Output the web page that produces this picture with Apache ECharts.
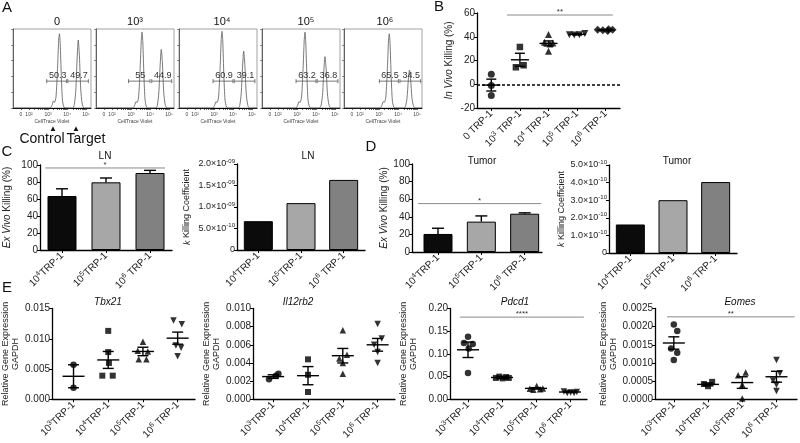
<!DOCTYPE html>
<html>
<head>
<meta charset="utf-8">
<script src="https://cdn.jsdelivr.net/npm/echarts@6.0.0/dist/echarts.min.js"></script>
<style>
html,body{margin:0;padding:0;background:#ffffff;}
#chart{width:800px;height:443px;}
</style>
</head>
<body>
<div id="chart"></div>
<script>
const FONT = "'Liberation Sans', Arial, Helvetica, sans-serif";

// ---------------- Panel A : CellTrace Violet histograms ----------------
const aTitles = ['0', '10³', '10⁴', '10⁵', '10⁶'];
const aHist0 = [[1.16,0],[3.1,0],[3.22,4],[3.28,9],[3.34,7],[3.42,14],[3.5,50],[3.56,85],[3.6,94],[3.64,82],[3.7,40],[3.76,10],[3.84,1],[3.95,0],[4.3,0],[4.38,4],[4.46,22],[4.53,62],[4.59,86],[4.65,66],[4.72,24],[4.8,5],[4.9,0],[5.26,0]];
const aHist1 = [[1.16,0],[3.1,0],[3.2,4],[3.26,8],[3.32,7],[3.4,14],[3.48,50],[3.54,86],[3.58,96],[3.62,84],[3.68,40],[3.74,10],[3.82,1],[3.93,0],[4.3,0],[4.38,3],[4.46,19],[4.53,53],[4.59,74],[4.65,57],[4.72,20],[4.8,4],[4.9,0],[5.26,0]];
const aHist2 = [[1.16,0],[2.94,0],[3.04,4],[3.1,8],[3.16,7],[3.24,14],[3.32,50],[3.38,87],[3.42,97],[3.46,85],[3.52,40],[3.58,10],[3.66,1],[3.77,0],[4.27,0],[4.35,3],[4.43,18],[4.5,52],[4.56,72],[4.62,55],[4.69,20],[4.77,4],[4.87,0],[5.26,0]];
const aHist3 = [[1.16,0],[2.94,0],[3.04,4],[3.1,8],[3.16,7],[3.24,14],[3.32,50],[3.38,86],[3.42,96],[3.46,84],[3.52,40],[3.58,10],[3.66,1],[3.77,0],[4.18,0],[4.26,3],[4.34,16],[4.41,47],[4.47,65],[4.53,50],[4.6,18],[4.68,4],[4.78,0],[5.26,0]];
const aHist4 = [[1.16,0],[3.06,0],[3.16,4],[3.22,8],[3.28,7],[3.36,14],[3.44,50],[3.5,85],[3.54,94],[3.58,82],[3.64,40],[3.7,10],[3.78,1],[3.89,0],[4.31,0],[4.39,2],[4.47,12],[4.54,35],[4.6,48],[4.66,37],[4.73,13],[4.81,3],[4.91,0],[5.26,0]];
const aGateL = [[2.93,3.98],[2.87,4.0],[2.95,4.0],[2.95,4.0],[3.02,4.02]];
const aGateR = [[4.04,5.12],[4.09,5.14],[4.06,5.15],[4.06,5.15],[4.1,5.19]];
const aGateLevel = 34;
const aPctL = ['50.3', '55', '60.9', '63.2', '65.5'];
const aPctR = ['49.7', '44.9', '39.1', '36.8', '34.5'];
const aTickVals = [1.58, 2, 3, 4, 5];
const aTickLabels = ['0', '10²', '10³', '10⁴', '10⁵'];

// ---------------- Panel B : In vivo killing ----------------
const bCats = ['0 TRP-1', '10³ TRP-1', '10⁴ TRP-1', '10⁵ TRP-1', '10⁶ TRP-1'];
const bKill0 = [[0,8.4],[0,-1.1],[0,-9.5]];
const bKill3 = [[1,31.4],[0.86,14.3],[1.13,16.0]];
const bKill4 = [[2,42],[1.86,35.3],[2.15,34.7],[2.05,34],[2,27.8]];
const bKill5 = [[2.73,41.7],[2.9,41.4],[3.08,41.7],[3.27,42.8]];
const bKill6 = [[3.72,46.0],[3.9,45.4],[4.07,44.8],[4.24,45.8],[4.1,46.4]];
const bMean = [-0.7, 20.6, 34.4, 42.0, 45.6];
const bSem = [5.0, 5.5, 2.1, 0.5, 0.4];
const bSig = [0.55, 4.25, 58.3, '**'];

// ---------------- Panel C / D : ex vivo killing ----------------
const cdCats = ['10⁴TRP-1', '10⁵TRP-1', '10⁶ TRP-1'];
const cLNKill = [63.5, 79.6, 90.6];
const cLNKillSem = [8.5, 5.1, 3.1];
const cLNSig = [-0.38, 2.34, 96.5, '*'];
const cLNCoef = [6.7e-10, 1.09e-9, 1.63e-9];
const dTumorKill = [20.5, 34.5, 43.5];
const dTumorKillSem = [6.5, 6.5, 1.0];
const dTumorSig = [-0.46, 2.38, 55, '*'];
const dTumorCoef = [1.62e-10, 3.0e-10, 4.03e-10];

// ---------------- Panel E : gene expression ----------------
const eCats = ['10³TRP-1', '10⁴TRP-1', '10⁵TRP-1', '10⁶ TRP-1'];
const eGenes = ['Tbx21', 'Il12rb2', 'Pdcd1', 'Eomes'];
const tbx21G3 = [[0,0.0057],[0,0.0019]];
const tbx21G4 = [[1,0.0113],[1,0.0078],[1.02,0.0060],[0.83,0.0039],[1.13,0.0039]];
const tbx21G5 = [[2,0.0095],[1.85,0.0080],[2.14,0.0079],[1.88,0.0066],[2.1,0.0066]];
const tbx21G6 = [[2.88,0.0130],[3.12,0.0124],[2.95,0.0089],[3.1,0.0085],[3,0.0071]];
const tbx21Mean = [0.0038, 0.0065, 0.0079, 0.0101];
const tbx21Sem = [0.0019, 0.0014, 0.0007, 0.0010];
const il12G3 = [[-0.12,0.0022],[0.08,0.0026],[0.15,0.0028]];
const il12G4 = [[1,0.0044],[1,0.0027],[1,0.0008]];
const il12G5 = [[2,0.0076],[2.12,0.0049],[1.9,0.0045],[2,0.0040],[2,0.0028]];
const il12G6 = [[3,0.0083],[3.12,0.0067],[2.9,0.0060],[3,0.0052],[3,0.0040]];
const il12Mean = [0.0025, 0.0026, 0.0048, 0.0060];
const il12Sem = [0.0002, 0.0010, 0.0008, 0.0007];
const pdcdG3 = [[0,0.138],[-0.12,0.124],[0.14,0.122],[0.02,0.112],[0,0.058]];
const pdcdG4 = [[0.82,0.047],[0.92,0.050],[1.02,0.046],[1.12,0.049],[1.2,0.047]];
const pdcdG5 = [[1.82,0.023],[1.92,0.021],[2.02,0.029],[2.12,0.022],[2.2,0.024]];
const pdcdG6 = [[2.82,0.017],[2.92,0.014],[3.02,0.015],[3.12,0.014],[3.2,0.016]];
const pdcdMean = [0.109, 0.048, 0.024, 0.016];
const pdcdSem = [0.017, 0.002, 0.0015, 0.001];
const pdcdSig = [-0.24, 3.41, 0.181, '****'];
const eomG3 = [[0,0.00206],[0.1,0.00188],[-0.08,0.00140],[0.1,0.00128],[0,0.00108]];
const eomG4 = [[0.88,0.00042],[1.0,0.00036],[1.12,0.00048]];
const eomG5 = [[2.1,0.00074],[1.88,0.00066],[2,0.00040],[2,0.00002]];
const eomG6 = [[3,0.00108],[3.1,0.00072],[2.9,0.00052],[3,0.00040],[3,0.00023]];
const eomMean = [0.00155, 0.00041, 0.00046, 0.00062];
const eomSem = [0.00017, 0.00004, 0.00016, 0.00015];
const eomSig = [-0.2, 3.53, 0.00227, '**'];

// ======================================================================
const grids = [], xAxes = [], yAxes = [], series = [], graphics = [];
const unSup = {'⁰':'0','¹':'1','²':'2','³':'3','⁴':'4','⁵':'5','⁶':'6','⁷':'7','⁸':'8','⁹':'9','⁻':'-'};
// turn unicode superscript runs into rich-text tokens
function richSup(s) {
  return s.replace(/[⁰¹²³⁴⁵⁶⁷⁸⁹⁻]+/g, m => '{s|' + m.split('').map(c => unSup[c]).join('') + '}');
}
function expLabel(v) {
  if (Math.abs(v) < 1e-20) return '0';
  const e = Math.floor(Math.log10(v) + 1e-9);
  const m = v / Math.pow(10, e);
  return m.toFixed(1) + '×10{s|-' + String(-e).padStart(2, '0') + '}';
}
function supRich(fs) {
  return {s: {fontSize: fs, fontFamily: FONT, color: '#222', verticalAlign: 'top', lineHeight: fs + 1, padding: [0, 0, 0, 0]}};
}
function txt(x, y, s, size, extra) {
  graphics.push({type: 'text', x, y, silent: true, z: 100,
    style: Object.assign({text: s, fill: '#111', fontSize: size, fontFamily: FONT, align: 'center', verticalAlign: 'middle'}, extra || {})});
}
function catX(gi, min, max, labels, fs) {
  const idx = labels.map((_, i) => i);
  return {gridIndex: gi, type: 'value', min, max, splitLine: {show: false},
    axisLine: {show: true, onZero: false, lineStyle: {color: '#000', width: 1.3}},
    axisTick: {show: true, length: 3, customValues: idx, lineStyle: {color: '#000', width: 1}},
    axisLabel: {customValues: idx, formatter: v => richSup(labels[Math.round(v)]), rotate: 45, fontSize: fs,
      fontFamily: FONT, color: '#222', margin: 4, lineHeight: fs + 3, rich: supRich(fs - 3)}};
}
function valY(gi, min, max, interval, fmt, name, gap, nameSize, labelSize) {
  const ls = labelSize || 10;
  return {gridIndex: gi, type: 'value', min, max, interval,
    axisLine: {show: true, onZero: false, lineStyle: {color: '#000', width: 1.3}},
    axisTick: {show: true, length: 3, lineStyle: {color: '#000', width: 1}},
    axisLabel: {formatter: fmt, fontSize: ls, fontFamily: FONT, color: '#222', margin: 2, lineHeight: ls + 3, rich: supRich(ls - 3)},
    splitLine: {show: false},
    name, nameLocation: 'middle', nameGap: gap,
    nameTextStyle: {fontSize: nameSize, fontFamily: FONT, color: '#222', lineHeight: nameSize + 1,
      rich: {i: {fontStyle: 'italic', fontSize: nameSize, fontFamily: FONT, color: '#222'}}}};
}
function scat(gi, data, symbol, rot, size) {
  return {type: 'scatter', xAxisIndex: gi, yAxisIndex: gi, data, symbol, symbolRotate: rot || 0,
    symbolSize: size, itemStyle: {color: '#000'}, silent: true, z: 3};
}
function meanSem(gi, means, sems, meanW, capW) {
  return {type: 'custom', xAxisIndex: gi, yAxisIndex: gi, silent: true, z: 4,
    data: means.map((m, i) => [i, m, sems[i]]),
    renderItem: (p, api) => {
      const x = api.value(0), m = api.value(1), s = api.value(2);
      const c = api.coord([x, m]), t = api.coord([x, m + s]), b = api.coord([x, m - s]);
      const st = {stroke: '#000', lineWidth: 1.4};
      return {type: 'group', children: [
        {type: 'line', shape: {x1: c[0] - meanW / 2, y1: c[1], x2: c[0] + meanW / 2, y2: c[1]}, style: st},
        {type: 'line', shape: {x1: t[0], y1: t[1], x2: b[0], y2: b[1]}, style: st},
        {type: 'line', shape: {x1: t[0] - capW / 2, y1: t[1], x2: t[0] + capW / 2, y2: t[1]}, style: st},
        {type: 'line', shape: {x1: b[0] - capW / 2, y1: b[1], x2: b[0] + capW / 2, y2: b[1]}, style: st}
      ]};
    }};
}
function errUp(gi, means, sems, capW) {
  return {type: 'custom', xAxisIndex: gi, yAxisIndex: gi, silent: true, z: 4,
    data: means.map((m, i) => [i, m, sems[i]]),
    renderItem: (p, api) => {
      const x = api.value(0), m = api.value(1), s = api.value(2);
      const c = api.coord([x, m]), t = api.coord([x, m + s]);
      const st = {stroke: '#000', lineWidth: 1.4};
      return {type: 'group', children: [
        {type: 'line', shape: {x1: c[0], y1: c[1], x2: t[0], y2: t[1]}, style: st},
        {type: 'line', shape: {x1: t[0] - capW / 2, y1: t[1], x2: t[0] + capW / 2, y2: t[1]}, style: st}
      ]};
    }};
}
function sigLine(gi, sig, fs) {
  return {type: 'custom', xAxisIndex: gi, yAxisIndex: gi, silent: true, z: 5,
    data: [[sig[0], sig[1], sig[2]]],
    renderItem: (p, api) => {
      const a = api.coord([api.value(0), api.value(2)]), b = api.coord([api.value(1), api.value(2)]);
      return {type: 'group', children: [
        {type: 'line', shape: {x1: a[0], y1: a[1], x2: b[0], y2: b[1]}, style: {stroke: '#8a8a8a', lineWidth: 1}},
        {type: 'text', x: (a[0] + b[0]) / 2, y: a[1] + 1, style: {text: sig[3], align: 'center', verticalAlign: 'bottom', fontSize: fs, fontFamily: FONT, fill: '#333'}}
      ]};
    }};
}
function bars(gi, vals, colors) {
  return {type: 'bar', xAxisIndex: gi, yAxisIndex: gi, barWidth: 29, silent: true, z: 2,
    data: vals.map((v, i) => ({value: [i, v], itemStyle: {color: colors[i], borderColor: '#000', borderWidth: 1}}))};
}

// ---- Panel A grids ----
const aHists = [aHist0, aHist1, aHist2, aHist3, aHist4];
const aLefts = [13, 96, 179, 262, 344];
const aTitleX = [57, 135, 222, 306, 385];
const aMinor = [1.58];
for (let d = 2; d <= 4; d++) for (let k = 1; k <= 9; k++) aMinor.push(d + Math.log10(k));
aMinor.push(5);
aHists.forEach((h, i) => {
  const gi = grids.length;
  grids.push({left: aLefts[i], top: 29, width: 78, height: 79, show: true, borderColor: '#8a8a8a', borderWidth: 0.8, backgroundColor: 'transparent'});
  xAxes.push({gridIndex: gi, type: 'value', min: 1.16, max: 5.26, splitLine: {show: false},
    axisLine: {show: true, onZero: false, lineStyle: {color: '#000', width: 1}},
    axisTick: {show: true, customValues: aMinor, length: 2, lineStyle: {color: '#000', width: 0.6}},
    axisLabel: {customValues: aTickVals, fontSize: 5, color: '#444', fontFamily: FONT, margin: 4,
      formatter: v => { let best = 0; aTickVals.forEach((t, j) => { if (Math.abs(t - v) < Math.abs(aTickVals[best] - v)) best = j; }); return aTickLabels[best]; }},
    name: 'CellTrace Violet', nameLocation: 'middle', nameGap: 11, nameTextStyle: {fontSize: 5, color: '#444', fontFamily: FONT}});
  yAxes.push({gridIndex: gi, type: 'value', min: 0, max: 100, interval: 20, splitLine: {show: false},
    axisLine: {show: true, lineStyle: {color: '#444', width: 0.8}},
    axisTick: {show: true, length: 2, lineStyle: {color: '#444', width: 0.6}}, axisLabel: {show: false}});
  series.push({type: 'line', xAxisIndex: gi, yAxisIndex: gi, data: h, showSymbol: false, smooth: 0.25, silent: true,
    lineStyle: {color: '#6a6a6a', width: 0.9}});
  const gates = [[aGateL[i][0], aGateL[i][1], aGateLevel], [aGateR[i][0], aGateR[i][1], aGateLevel]];
  const pcts = [aPctL[i], aPctR[i]];
  series.push({type: 'custom', xAxisIndex: gi, yAxisIndex: gi, silent: true, z: 5, data: gates,
    renderItem: (p, api) => {
      const a = api.coord([api.value(0), api.value(2)]), b = api.coord([api.value(1), api.value(2)]);
      const st = {stroke: '#555', lineWidth: 0.8};
      return {type: 'group', children: [
        {type: 'line', shape: {x1: a[0], y1: a[1], x2: b[0], y2: b[1]}, style: st},
        {type: 'line', shape: {x1: a[0], y1: a[1] - 2, x2: a[0], y2: a[1] + 2}, style: st},
        {type: 'line', shape: {x1: b[0], y1: b[1] - 2, x2: b[0], y2: b[1] + 2}, style: st},
        {type: 'text', x: (a[0] + b[0]) / 2 + 1, y: a[1] - 1, style: {text: pcts[p.dataIndex], align: 'center', verticalAlign: 'bottom', fontSize: 9, fontFamily: FONT, fill: '#333'}}
      ]};
    }});
  txt(aTitleX[i], 22, aTitles[i], 11);
});
txt(53, 129, '▲', 8);
txt(76, 129, '▲', 8);
txt(42, 139, 'Control', 14);
txt(86, 139, 'Target', 14);

// ---- Panel B ----
const gB = grids.length;
grids.push({left: 477, top: 13, width: 143, height: 95});
xAxes.push(catX(gB, -0.5, 4.5, bCats, 10));
yAxes.push(valY(gB, -20, 60, 20, v => String(v), '{i|In Vivo} Killing (%)', 22, 10, 10));
const bScat0 = scat(gB, bKill0, 'circle', 0, 7);
bScat0.markLine = {silent: true, symbol: 'none', label: {show: false}, animation: false,
  lineStyle: {type: [3, 2], color: '#000', width: 1.5}, data: [{yAxis: 0}]};
series.push(bScat0, scat(gB, bKill3, 'rect', 0, 6.5), scat(gB, bKill4, 'triangle', 0, 7),
  scat(gB, bKill5, 'triangle', 180, 7), scat(gB, bKill6, 'diamond', 0, 8));
series.push(meanSem(gB, bMean, bSem, 18, 10), sigLine(gB, bSig, 8));

// ---- Panel C ----
const barColors = ['#0b0b0b', '#a7a7a7', '#818181'];
const gC1 = grids.length;
grids.push({left: 40, top: 165, width: 132, height: 85});
xAxes.push(catX(gC1, -0.5, 2.5, cdCats, 10));
yAxes.push(valY(gC1, 0, 100, 20, v => String(v), '{i|Ex Vivo} Killing (%)', 27, 10, 10));
series.push(bars(gC1, cLNKill, barColors), errUp(gC1, cLNKill, cLNKillSem, 12), sigLine(gC1, cLNSig, 8));
const gC2 = grids.length;
grids.push({left: 237, top: 164, width: 128, height: 86});
xAxes.push(catX(gC2, -0.5, 2.5, cdCats, 10));
yAxes.push(valY(gC2, 0, 2e-9, 5e-10, expLabel, '{i|k} Killing Coefficient', 45, 9, 9));
series.push(bars(gC2, cLNCoef, barColors));

// ---- Panel D ----
const gD1 = grids.length;
grids.push({left: 412, top: 164, width: 130, height: 88});
xAxes.push(catX(gD1, -0.6, 2.4, cdCats, 10));
yAxes.push(valY(gD1, 0, 100, 20, v => String(v), '{i|Ex Vivo} Killing (%)', 20, 10, 10));
series.push(bars(gD1, dTumorKill, barColors), errUp(gD1, dTumorKill, dTumorKillSem, 12), sigLine(gD1, dTumorSig, 8));
const gD2 = grids.length;
grids.push({left: 609, top: 165, width: 128, height: 88});
xAxes.push(catX(gD2, -0.5, 2.5, cdCats, 10));
yAxes.push(valY(gD2, 0, 5e-10, 1e-10, expLabel, '{i|k} Killing Coefficient', 42, 9, 9));
series.push(bars(gD2, dTumorCoef, barColors));

// ---- Panel E ----
const eSpecs = [
  {left: 50, width: 145, min: -0.62, max: 3.5, ymax: 0.015, step: 0.005, dec: 3, groups: [tbx21G3, tbx21G4, tbx21G5, tbx21G6], mean: tbx21Mean, sem: tbx21Sem, sig: null},
  {left: 253, width: 142, min: -0.58, max: 3.5, ymax: 0.010, step: 0.002, dec: 3, groups: [il12G3, il12G4, il12G5, il12G6], mean: il12Mean, sem: il12Sem, sig: null},
  {left: 450, width: 137, min: -0.53, max: 3.5, ymax: 0.20, step: 0.05, dec: 2, groups: [pdcdG3, pdcdG4, pdcdG5, pdcdG6], mean: pdcdMean, sem: pdcdSem, sig: pdcdSig},
  {left: 655, width: 142, min: -0.55, max: 3.6, ymax: 0.0025, step: 0.0005, dec: 4, groups: [eomG3, eomG4, eomG5, eomG6], mean: eomMean, sem: eomSem, sig: eomSig}
];
const eSymbols = [['circle', 0], ['rect', 0], ['triangle', 0], ['triangle', 180]];
const eTitleX = [108, 298, 515, 740];
eSpecs.forEach((s, k) => {
  const gi = grids.length;
  grids.push({left: s.left, top: 308.5, width: s.width, height: 96});
  xAxes.push(catX(gi, s.min, s.max, eCats, 10));
  yAxes.push(valY(gi, 0, s.ymax, s.step, v => v.toFixed(s.dec), 'Relative Gene Expression\nGAPDH', 31, 9, 10));
  s.groups.forEach((g, j) => series.push(scat(gi, g, eSymbols[j][0], eSymbols[j][1], j === 1 ? 6 : 6.5)));
  series.push(meanSem(gi, s.mean, s.sem, 22, 11));
  if (s.sig) series.push(sigLine(gi, s.sig, 8));
  txt(eTitleX[k], 302, eGenes[k], 10, {fontStyle: 'italic'});
});

// ---- Titles and panel letters ----
txt(105, 156, 'LN', 10);
txt(308, 156, 'LN', 10);
txt(482, 161, 'Tumor', 10);
txt(677, 161, 'Tumor', 10);
txt(7, 8, 'A', 15);
txt(439, 7, 'B', 15);
txt(7, 152, 'C', 15);
txt(371, 147, 'D', 15);
txt(7, 288, 'E', 15);

const chart = echarts.init(document.getElementById('chart'), null, {renderer: 'canvas'});
chart.setOption({
  animation: false,
  backgroundColor: '#ffffff',
  textStyle: {fontFamily: FONT},
  grid: grids, xAxis: xAxes, yAxis: yAxes, series, graphic: graphics
});
</script>
</body>
</html>
